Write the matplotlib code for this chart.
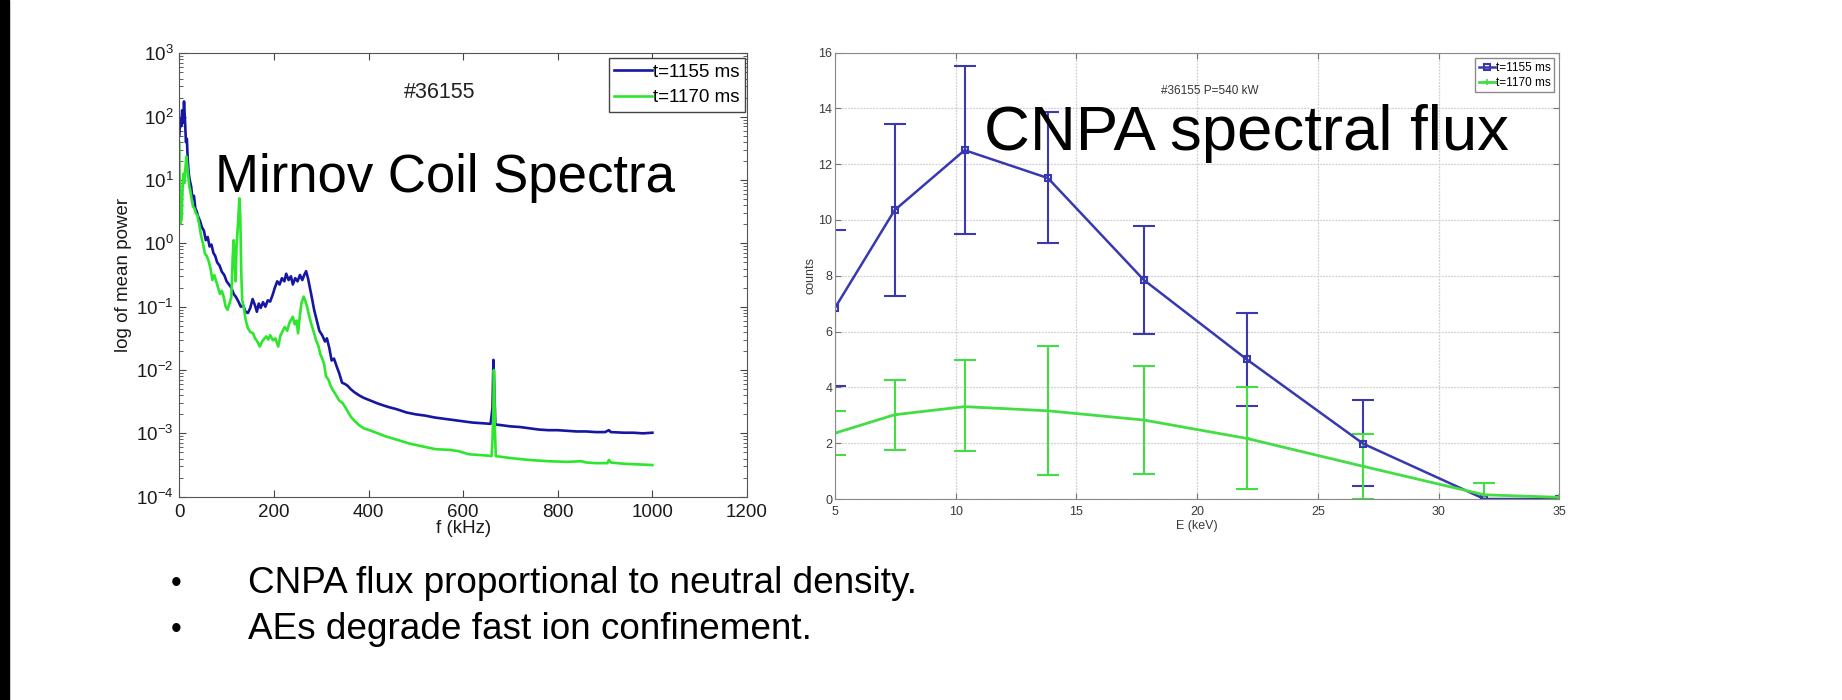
import numpy as np
import matplotlib
matplotlib.use('Agg')
import matplotlib.pyplot as plt
from matplotlib.patches import Rectangle

plt.rcParams['font.family'] = ['Liberation Sans', 'DejaVu Sans']

# Mirnov coil spectra, shot #36155: frequency (kHz) and log10 of mean power
f_1155 = [0, 2, 4, 6, 8, 10, 12, 14, 16, 18, 20, 22, 25, 28, 31, 34, 37, 40, 44, 48,
          52, 56, 60, 64, 68, 72, 76, 80, 85, 90, 95, 100, 105, 110, 115, 120, 125, 130, 135, 140,
          145, 150, 155, 160, 164, 168, 172, 177, 182, 187, 192, 197, 202, 207, 212, 217, 222, 226, 231, 236,
          240, 245, 250, 255, 260, 264, 268, 272, 276, 280, 285, 290, 296, 302, 308, 312, 317, 322, 327, 333,
          338, 344, 350, 356, 362, 370, 380, 390, 400, 420, 440, 460, 480, 500, 520, 540, 560, 580, 600, 620,
          640, 658, 662, 664, 666, 668, 680, 700, 720, 740, 760, 780, 800, 820, 840, 860, 880, 900, 908, 912,
          940, 960, 980, 1000]
logp_1155 = [1.7, 1.95, 1.85, 2.1, 1.9, 2.24, 1.95, 1.6, 1.65, 1.3, 1.1, 1.0, 0.9, 0.7, 0.75, 0.55, 0.5, 0.42, 0.35, 0.25,
             0.2, 0.05, 0.1, -0.05, -0.02, -0.15, -0.2, -0.3, -0.35, -0.45, -0.5, -0.6, -0.65, -0.7, -0.8, -0.85, -0.92, -1.0, -0.98, -1.08,
             -1.1, -1.02, -0.88, -0.98, -1.08, -0.95, -1.02, -0.93, -1.0, -0.9, -0.92, -0.82, -0.7, -0.6, -0.65, -0.55, -0.6, -0.48, -0.58, -0.52,
             -0.65, -0.55, -0.6, -0.5, -0.58, -0.5, -0.44, -0.55, -0.7, -0.85, -1.05, -1.2, -1.38, -1.45, -1.55, -1.5, -1.65, -1.85, -1.82, -1.95,
             -2.05, -2.2, -2.22, -2.25, -2.3, -2.35, -2.4, -2.44, -2.47, -2.53, -2.58, -2.62, -2.67, -2.7, -2.72, -2.75, -2.77, -2.79, -2.81, -2.83,
             -2.84, -2.85, -2.6, -1.84, -2.3, -2.86, -2.87, -2.89, -2.9, -2.92, -2.94, -2.95, -2.95, -2.96, -2.97, -2.97, -2.98, -2.98, -2.95, -2.98,
             -2.99, -2.99, -3.0, -2.99]

f_1170 = [0, 1, 2, 3, 5, 7, 9, 11, 13, 15, 17, 19, 21, 23, 26, 29, 32, 35, 38, 42,
          46, 50, 54, 58, 62, 66, 70, 74, 78, 82, 86, 90, 94, 98, 102, 106, 110, 113, 115, 117,
          119, 121, 124, 127, 129, 131, 133, 136, 140, 145, 150, 156, 160, 165, 170, 175, 180, 184, 188, 192,
          198, 203, 209, 214, 219, 223, 228, 233, 237, 240, 244, 248, 251, 254, 258, 261, 263, 266, 270, 275,
          280, 285, 289, 294, 298, 303, 306, 310, 315, 320, 324, 330, 338, 345, 352, 358, 363, 370, 380, 390,
          402, 420, 437, 460, 486, 510, 542, 570, 590, 612, 630, 650, 660, 662, 664, 665, 666, 667, 669, 680,
          700, 740, 780, 820, 850, 860, 880, 905, 908, 912, 940, 970, 1000]
logp_1170 = [1.6, 0.8, 0.3, 0.6, 0.37, 0.9, 1.1, 0.95, 1.2, 1.37, 1.2, 1.05, 0.9, 0.84, 0.7, 0.58, 0.55, 0.47, 0.45, 0.3,
             0.12, 0.0, -0.16, -0.2, -0.28, -0.4, -0.58, -0.5, -0.6, -0.7, -0.8, -0.75, -0.85, -1.0, -1.05, -0.95, -0.85, -0.2, 0.05, -0.3,
             -0.6, -0.05, 0.3, 0.71, 0.4, -0.47, -0.9, -1.0, -1.2, -1.34, -1.4, -1.42, -1.5, -1.55, -1.63, -1.55, -1.5, -1.47, -1.52, -1.45,
             -1.53, -1.5, -1.63, -1.45, -1.38, -1.32, -1.38, -1.25, -1.2, -1.16, -1.28, -1.22, -1.42, -1.2, -0.95, -0.88, -0.84, -0.9, -1.0, -1.16,
             -1.3, -1.42, -1.53, -1.62, -1.75, -1.84, -1.9, -2.1, -2.15, -2.25, -2.31, -2.38, -2.48, -2.52, -2.6, -2.68, -2.74, -2.8, -2.87, -2.92,
             -2.95, -3.0, -3.05, -3.1, -3.16, -3.2, -3.25, -3.26, -3.28, -3.33, -3.34, -3.35, -3.36, -3.1, -2.6, -2.0, -2.3, -2.9, -3.36, -3.37,
             -3.39, -3.42, -3.44, -3.45, -3.44, -3.46, -3.47, -3.47, -3.42, -3.46, -3.48, -3.49, -3.5]

# CNPA spectral flux: energy (keV), counts and error bar limits
energy = [5, 7.47, 10.37, 13.82, 17.79, 22.06, 26.88, 31.9, 35]
counts_1155 = [6.85, 10.35, 12.5, 11.5, 7.85, 5.0, 1.98, 0.0, 0.0]
low_1155 = [4.05, 7.28, 9.5, 9.17, 5.9, 3.33, 0.45]
high_1155 = [9.65, 13.42, 15.53, 13.86, 9.78, 6.68, 3.56]
counts_1170 = [2.36, 3.02, 3.31, 3.16, 2.83, 2.17, 1.17, 0.15, 0.06]
low_1170 = [1.56, 1.75, 1.72, 0.85, 0.89, 0.36, 0.0, -0.27]
high_1170 = [3.16, 4.27, 4.97, 5.48, 4.78, 4.02, 2.33, 0.57]

labels = ['t=1155 ms', 't=1170 ms']
bullets = ['CNPA flux proportional to neutral density.',
           'AEs degrade fast ion confinement.']

blue = '#1616a2'
green = '#2ee62e'
W, H = 1842, 700

fig = plt.figure(figsize=(W / 100, H / 100), dpi=100)
fig.add_artist(Rectangle((0, 0), 9 / W, 1, transform=fig.transFigure,
                         color='black', zorder=0))


def fig_box(x0, y0, x1, y1):
    return [x0 / W, 1 - y1 / H, (x1 - x0) / W, (y1 - y0) / H]


# ---- left panel: Mirnov coil spectra ----
ax1 = fig.add_axes(fig_box(179.3, 53.3, 747, 496.7))
ax1.plot(f_1155, 10.0 ** np.array(logp_1155), color=blue, lw=1.9, label=labels[0])
ax1.plot(f_1170, 10.0 ** np.array(logp_1170), color=green, lw=1.9, label=labels[1])
ax1.set_yscale('log')
ax1.set_xlim(0, 1200)
ax1.set_ylim(1e-4, 1e3)
ax1.set_xticks(range(0, 1201, 200))
ax1.tick_params(which='both', direction='in', top=True, right=True,
                colors='#444444', labelcolor='#1a1a1a', labelsize=13.5)
ax1.tick_params(which='major', length=5, pad=5)
ax1.tick_params(which='minor', length=3)
ax1.tick_params(axis='y', pad=4)
for s in ax1.spines.values():
    s.set_color('#555555')
ax1.set_xlabel('f (kHz)', fontsize=13.5, color='#1a1a1a')
ax1.set_ylabel('log of mean power', fontsize=13.5, color='#1a1a1a')
ax1.xaxis.set_label_coords(0.5, -0.052)
ax1.yaxis.set_label_coords(-0.083, 0.5)
ax1.legend(loc='upper right', bbox_to_anchor=(0.9965, 0.989), borderaxespad=0,
           fontsize=13.5, fancybox=False, framealpha=1, edgecolor='#444444',
           handlelength=2.0, handletextpad=0.05, labelspacing=0.45, borderpad=0.3)
fig.text(440 / W, 1 - 92 / H, '#36155', fontsize=15.5, color='#222222',
         ha='center', va='center')
fig.text(215 / W, 1 - 191.7 / H, 'Mirnov Coil Spectra', fontsize=38,
         ha='left', va='baseline')

# ---- right panel: CNPA spectral flux ----
ax2 = fig.add_axes(fig_box(835, 52.5, 1559.3, 499))
n1 = len(low_1155)
c1 = np.array(counts_1155[:n1])
ax2.errorbar(energy[:n1], c1, yerr=[c1 - np.array(low_1155), np.array(high_1155) - c1],
             fmt='none', ecolor='#3a3aae', elinewidth=1.5, capsize=8, capthick=1.5)
n2 = len(low_1170)
c2 = np.array(counts_1170[:n2])
ax2.errorbar(energy[:n2], c2, yerr=[c2 - np.array(low_1170), np.array(high_1170) - c2],
             fmt='none', ecolor='#44dd44', elinewidth=1.5, capsize=8, capthick=1.5)
ax2.plot(energy, counts_1155, color='#3838b0', lw=1.8, marker='s', ms=4,
         mfc='none', mew=1.5, label=labels[0])
ax2.plot(energy, counts_1170, color='#44dd44', lw=2.0, marker='+', ms=5,
         mew=1.2, label=labels[1])
ax2.set_xlim(5, 35)
ax2.set_ylim(0, 16)
ax2.set_xticks(range(5, 36, 5))
ax2.set_yticks(range(0, 17, 2))
ax2.grid(True, color='#cfcfcf', lw=0.9, ls=(0, (1.5, 1)))
ax2.set_axisbelow(True)
ax2.tick_params(direction='in', top=True, right=True, length=4, pad=5,
                colors='#777777', labelcolor='#3a3a3a', labelsize=9)
ax2.tick_params(axis='y', pad=2)
for s in ax2.spines.values():
    s.set_color('#8a8a8a')
ax2.set_xlabel('E (keV)', fontsize=9, color='#3a3a3a')
ax2.set_ylabel('counts', fontsize=9, color='#3a3a3a')
ax2.xaxis.set_label_coords(0.5, -0.047)
ax2.yaxis.set_label_coords(-0.025, 0.5)
ax2.legend(loc='upper right', bbox_to_anchor=(0.9927, 0.987), borderaxespad=0,
           fontsize=8.5, fancybox=False, framealpha=1, edgecolor='#8a8a8a',
           handlelength=1.4, handletextpad=0.05, labelspacing=0.25, borderpad=0.3)
fig.text(1210 / W, 1 - 91 / H, '#36155 P=540 kW', fontsize=8.5, color='#333333',
         ha='center', va='center')
fig.text(983.7 / W, 1 - 150 / H, 'CNPA spectral flux', fontsize=45.7,
         ha='left', va='baseline')

# ---- bullet points ----
for i, line in enumerate(bullets):
    y = 1 - (583.5 + 46 * i) / H
    fig.text(176 / W, y, '\u2022', fontsize=22, ha='center', va='center')
    fig.text(248 / W, y, line, fontsize=26.6, ha='left', va='center')

fig.savefig('out.png', dpi=100)
